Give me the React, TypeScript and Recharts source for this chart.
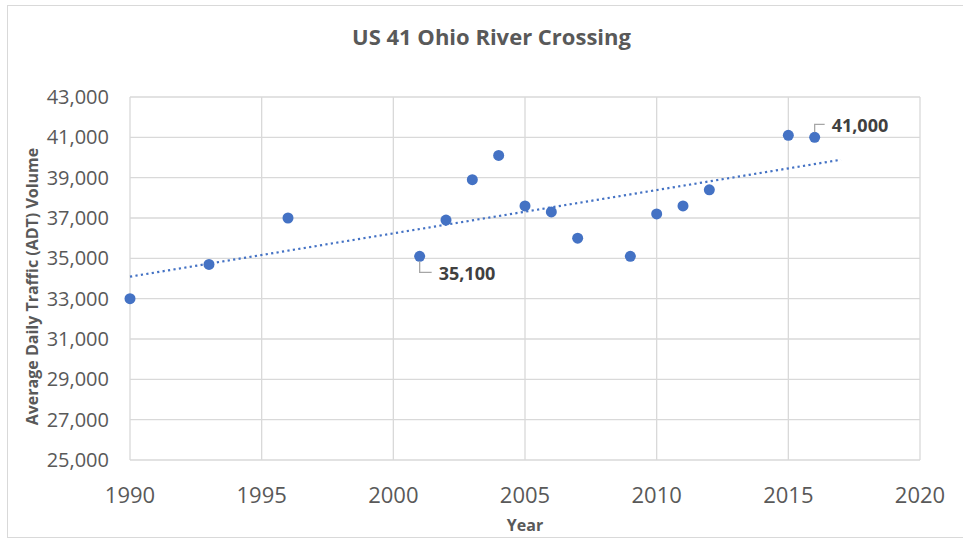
import React from 'react';
import { ScatterChart, Scatter, XAxis, YAxis, CartesianGrid, Label } from 'recharts';

const years = [1990, 1993, 1996, 2001, 2002, 2003, 2004, 2005, 2006, 2007, 2009, 2010, 2011, 2012, 2015, 2016];
const adtVolume = [33000, 34700, 37000, 35100, 36900, 38900, 40100, 37600, 37300, 36000, 35100, 37200, 37600, 38400, 41100, 41000];
const labeledYears = [2001, 2016];
const labelSides = ['below', 'above'];
const xTicks = [1990, 1995, 2000, 2005, 2010, 2015, 2020];
const yTicks = [25000, 27000, 29000, 31000, 33000, 35000, 37000, 39000, 41000, 43000];
const trendForward = 1;

const BLUE = '#4472C4';
const GRAY = '#595959';
const FONT = '"Open Sans", sans-serif';

const points = years.map((year, i) => ({ year, adt: adtVolume[i] }));

// linear trendline (least squares), extended one year forward like Excel's forecast
const n = years.length;
const meanX = years.reduce((a, b) => a + b, 0) / n;
const meanY = adtVolume.reduce((a, b) => a + b, 0) / n;
let sxy = 0;
let sxx = 0;
years.forEach((x, i) => {
  sxy += (x - meanX) * (adtVolume[i] - meanY);
  sxx += (x - meanX) * (x - meanX);
});
const slope = sxy / sxx;
const intercept = meanY - slope * meanX;
const trendData = [years[0], years[n - 1] + trendForward].map((x) => ({ year: x, adt: intercept + slope * x }));

const fmt = (v: number) => v.toLocaleString('en-US');

const PointShape = (props: any) => {
  const { cx, cy, payload } = props;
  const idx = labeledYears.indexOf(payload.year);
  return (
    <g>
      <circle cx={cx} cy={cy} r={5.5} fill={BLUE} />
      {idx >= 0 && labelSides[idx] === 'below' && (
        <g>
          <path d={`M${cx},${cy + 5}L${cx},${cy + 16}L${cx + 12},${cy + 16}`} stroke="#a6a6a6" strokeWidth={1.3} fill="none" />
          <text x={cx + 19} y={cy + 24} fontFamily={FONT} fontWeight={700} fontSize={18} fill="#404040">
            {fmt(payload.adt)}
          </text>
        </g>
      )}
      {idx >= 0 && labelSides[idx] === 'above' && (
        <g>
          <path d={`M${cx},${cy - 5}L${cx},${cy - 13}L${cx + 10},${cy - 13}`} stroke="#a6a6a6" strokeWidth={1.3} fill="none" />
          <text x={cx + 17} y={cy - 5} fontFamily={FONT} fontWeight={700} fontSize={18} fill="#404040">
            {fmt(payload.adt)}
          </text>
        </g>
      )}
    </g>
  );
};

const YTitle = (props: any) => {
  const vb = props.viewBox || { x: 0, y: 97, width: 130, height: 363 };
  const x = 32;
  const y = vb.y + vb.height / 2 + 8;
  return (
    <text x={x} y={y} transform={`rotate(-90 ${x} ${y})`} textAnchor="middle" dominantBaseline="central"
      fontFamily={FONT} fontWeight={700} fontSize={16} fill={GRAY}>
      Average Daily Traffic (ADT) Volume
    </text>
  );
};

const XTitle = (props: any) => {
  const vb = props.viewBox || { x: 130, y: 460, width: 790, height: 78 };
  return (
    <text x={vb.x + vb.width / 2} y={531} textAnchor="middle" fontFamily={FONT} fontWeight={700} fontSize={16} fill={GRAY}>
      Year
    </text>
  );
};

export default function App() {
  return (
    <div style={{ position: 'relative', width: 963, height: 538, overflow: 'hidden', background: '#fff' }}>
      <style>{'body{margin:0}'}</style>
      <div style={{ position: 'absolute', left: 7, top: 5, width: 975, height: 531, border: '1px solid #d9d9d9' }} />
      <div style={{ position: 'absolute', left: 0, top: 22, width: 983, textAlign: 'center', fontFamily: FONT, fontWeight: 700, fontSize: 22, color: GRAY, lineHeight: '28px' }}>
        US 41 Ohio River Crossing
      </div>
      <div style={{ position: 'absolute', left: 0, top: 0 }}>
        <ScatterChart width={963} height={538} margin={{ top: 97, right: 43, bottom: 0, left: 0 }}>
          <CartesianGrid stroke="#d9d9d9" strokeWidth={1.3} />
          <XAxis type="number" dataKey="year" domain={[1990, 2020]} ticks={xTicks} height={78}
            axisLine={false} tickLine={false} tickSize={0} tickMargin={27}
            tick={{ fontFamily: FONT, fontSize: 22, fill: GRAY }} interval={0}>
            <Label content={<XTitle />} />
          </XAxis>
          <YAxis type="number" dataKey="adt" domain={[25000, 43000]} ticks={yTicks} width={130}
            axisLine={false} tickLine={false} tickSize={0} tickMargin={21} interval={0}
            tickFormatter={fmt} tick={{ fontFamily: FONT, fontSize: 20, fill: GRAY }}>
            <Label content={<YTitle />} />
          </YAxis>
          <Scatter data={trendData} isAnimationActive={false} shape={() => <g />}
            line={{ stroke: BLUE, strokeWidth: 2.2, strokeDasharray: '2.2 3.3' }} lineType="joint" />
          <Scatter data={points} isAnimationActive={false} shape={<PointShape />} />
        </ScatterChart>
      </div>
    </div>
  );
}
